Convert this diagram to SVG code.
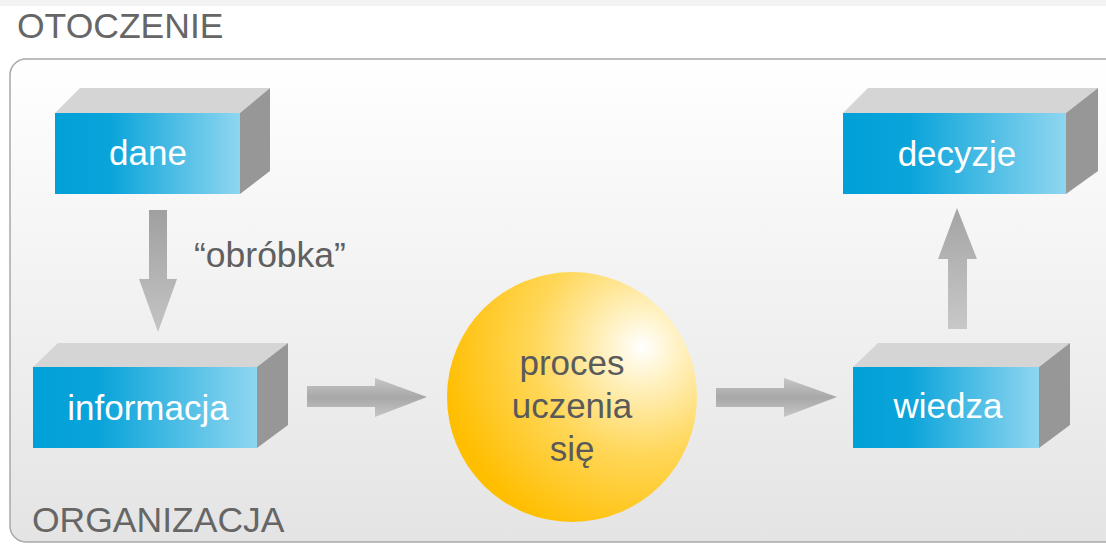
<svg xmlns="http://www.w3.org/2000/svg" width="1106" height="547" viewBox="0 0 1106 547">
<defs>
<linearGradient id="bg" x1="0" y1="0" x2="0" y2="1">
<stop offset="0" stop-color="#ffffff"/>
<stop offset="1" stop-color="#e4e4e4"/>
</linearGradient>
<linearGradient id="front" x1="0" y1="0" x2="1" y2="0">
<stop offset="0" stop-color="#00a0d8"/>
<stop offset="0.3" stop-color="#0aa4da"/>
<stop offset="1" stop-color="#8fd6f0"/>
</linearGradient>
<radialGradient id="sphere" cx="0.78" cy="0.3" r="0.95" fx="0.78" fy="0.3">
<stop offset="0" stop-color="#ffffff"/>
<stop offset="0.15" stop-color="#fff2c4"/>
<stop offset="0.45" stop-color="#ffd75a"/>
<stop offset="0.85" stop-color="#ffbe00"/>
<stop offset="1" stop-color="#ffbc00"/>
</radialGradient>
<linearGradient id="ad" x1="0" y1="0" x2="0" y2="1">
<stop offset="0" stop-color="#a0a0a0"/>
<stop offset="1" stop-color="#c4c4c4"/>
</linearGradient>
<linearGradient id="au" x1="0" y1="1" x2="0" y2="0">
<stop offset="0" stop-color="#c8c8c8"/>
<stop offset="1" stop-color="#a4a4a4"/>
</linearGradient>
<linearGradient id="ar" x1="0" y1="0" x2="0" y2="1">
<stop offset="0" stop-color="#c6c6c6"/>
<stop offset="0.5" stop-color="#a8a8a8"/>
<stop offset="1" stop-color="#c6c6c6"/>
</linearGradient>
<style>
.lbl{font-family:"Liberation Sans",Arial,sans-serif;font-size:35.5px;fill:#666666}
.bt{font-family:"Liberation Sans",Arial,sans-serif;font-size:35px;fill:#ffffff;text-anchor:middle}
.st{font-family:"Liberation Sans",Arial,sans-serif;font-size:35px;fill:#5a5a5a;text-anchor:middle}
.top{fill:#d5d5d5}
.side{fill:#979797}
.face{fill:url(#front)}
</style>
</defs>
<rect x="0" y="0" width="1106" height="547" fill="#ffffff"/>
<rect x="0" y="0" width="1106" height="6" fill="#f3f3f3"/>
<text class="lbl" x="17" y="38">OTOCZENIE</text>
<rect id="organizacja" x="10" y="59" width="1120" height="483" rx="16" fill="url(#bg)" stroke="#a8a8a8" stroke-width="1.5"/>
<text class="lbl" x="32" y="532">ORGANIZACJA</text>

<g id="connectors">
<polygon fill="url(#ad)" points="149,210 167,210 167,279 177,279 158,332 139,279 149,279"/>
<polygon fill="url(#ar)" points="307,386 375,386 375,378 427,397 375,417 375,407 307,407"/>
<polygon fill="url(#ar)" points="716,388 784,388 784,378 837,397 784,417 784,407 716,407"/>
<polygon fill="url(#au)" points="948,329 967,329 967,259 977,259 957,208 938,259 948,259"/>
<text class="lbl" x="194" y="267" style="fill:#606060">“obróbka”</text>
</g>

<g id="dane">
<polygon class="top" points="55,113 80,88 270,88 240,113"/>
<polygon class="side" points="240,113 270,88 270,171 240,194"/>
<rect class="face" x="55" y="113" width="185" height="81"/>
<text class="bt" x="148" y="165">dane</text>
</g>

<g id="informacja">
<polygon class="top" points="33,367 58,343 288,343 257,367"/>
<polygon class="side" points="257,367 288,343 288,425 257,448"/>
<rect class="face" x="33" y="367" width="224" height="81"/>
<text class="bt" x="148" y="420">informacja</text>
</g>

<g id="decyzje">
<polygon class="top" points="843,113 868,88 1098,88 1066,113"/>
<polygon class="side" points="1066,113 1098,88 1098,171 1066,194"/>
<rect class="face" x="843" y="113" width="223" height="81"/>
<text class="bt" x="957" y="166">decyzje</text>
</g>

<g id="wiedza">
<polygon class="top" points="853,367 878,343 1070,343 1039,367"/>
<polygon class="side" points="1039,367 1070,343 1070,425 1039,448"/>
<rect class="face" x="853" y="367" width="186" height="81"/>
<text class="bt" x="948" y="418">wiedza</text>
</g>

<g id="proces">
<circle cx="572" cy="397" r="125" fill="url(#sphere)"/>
<text class="st" x="572" y="375">proces</text>
<text class="st" x="572" y="418">uczenia</text>
<text class="st" x="572" y="461">się</text>
</g>
</svg>
